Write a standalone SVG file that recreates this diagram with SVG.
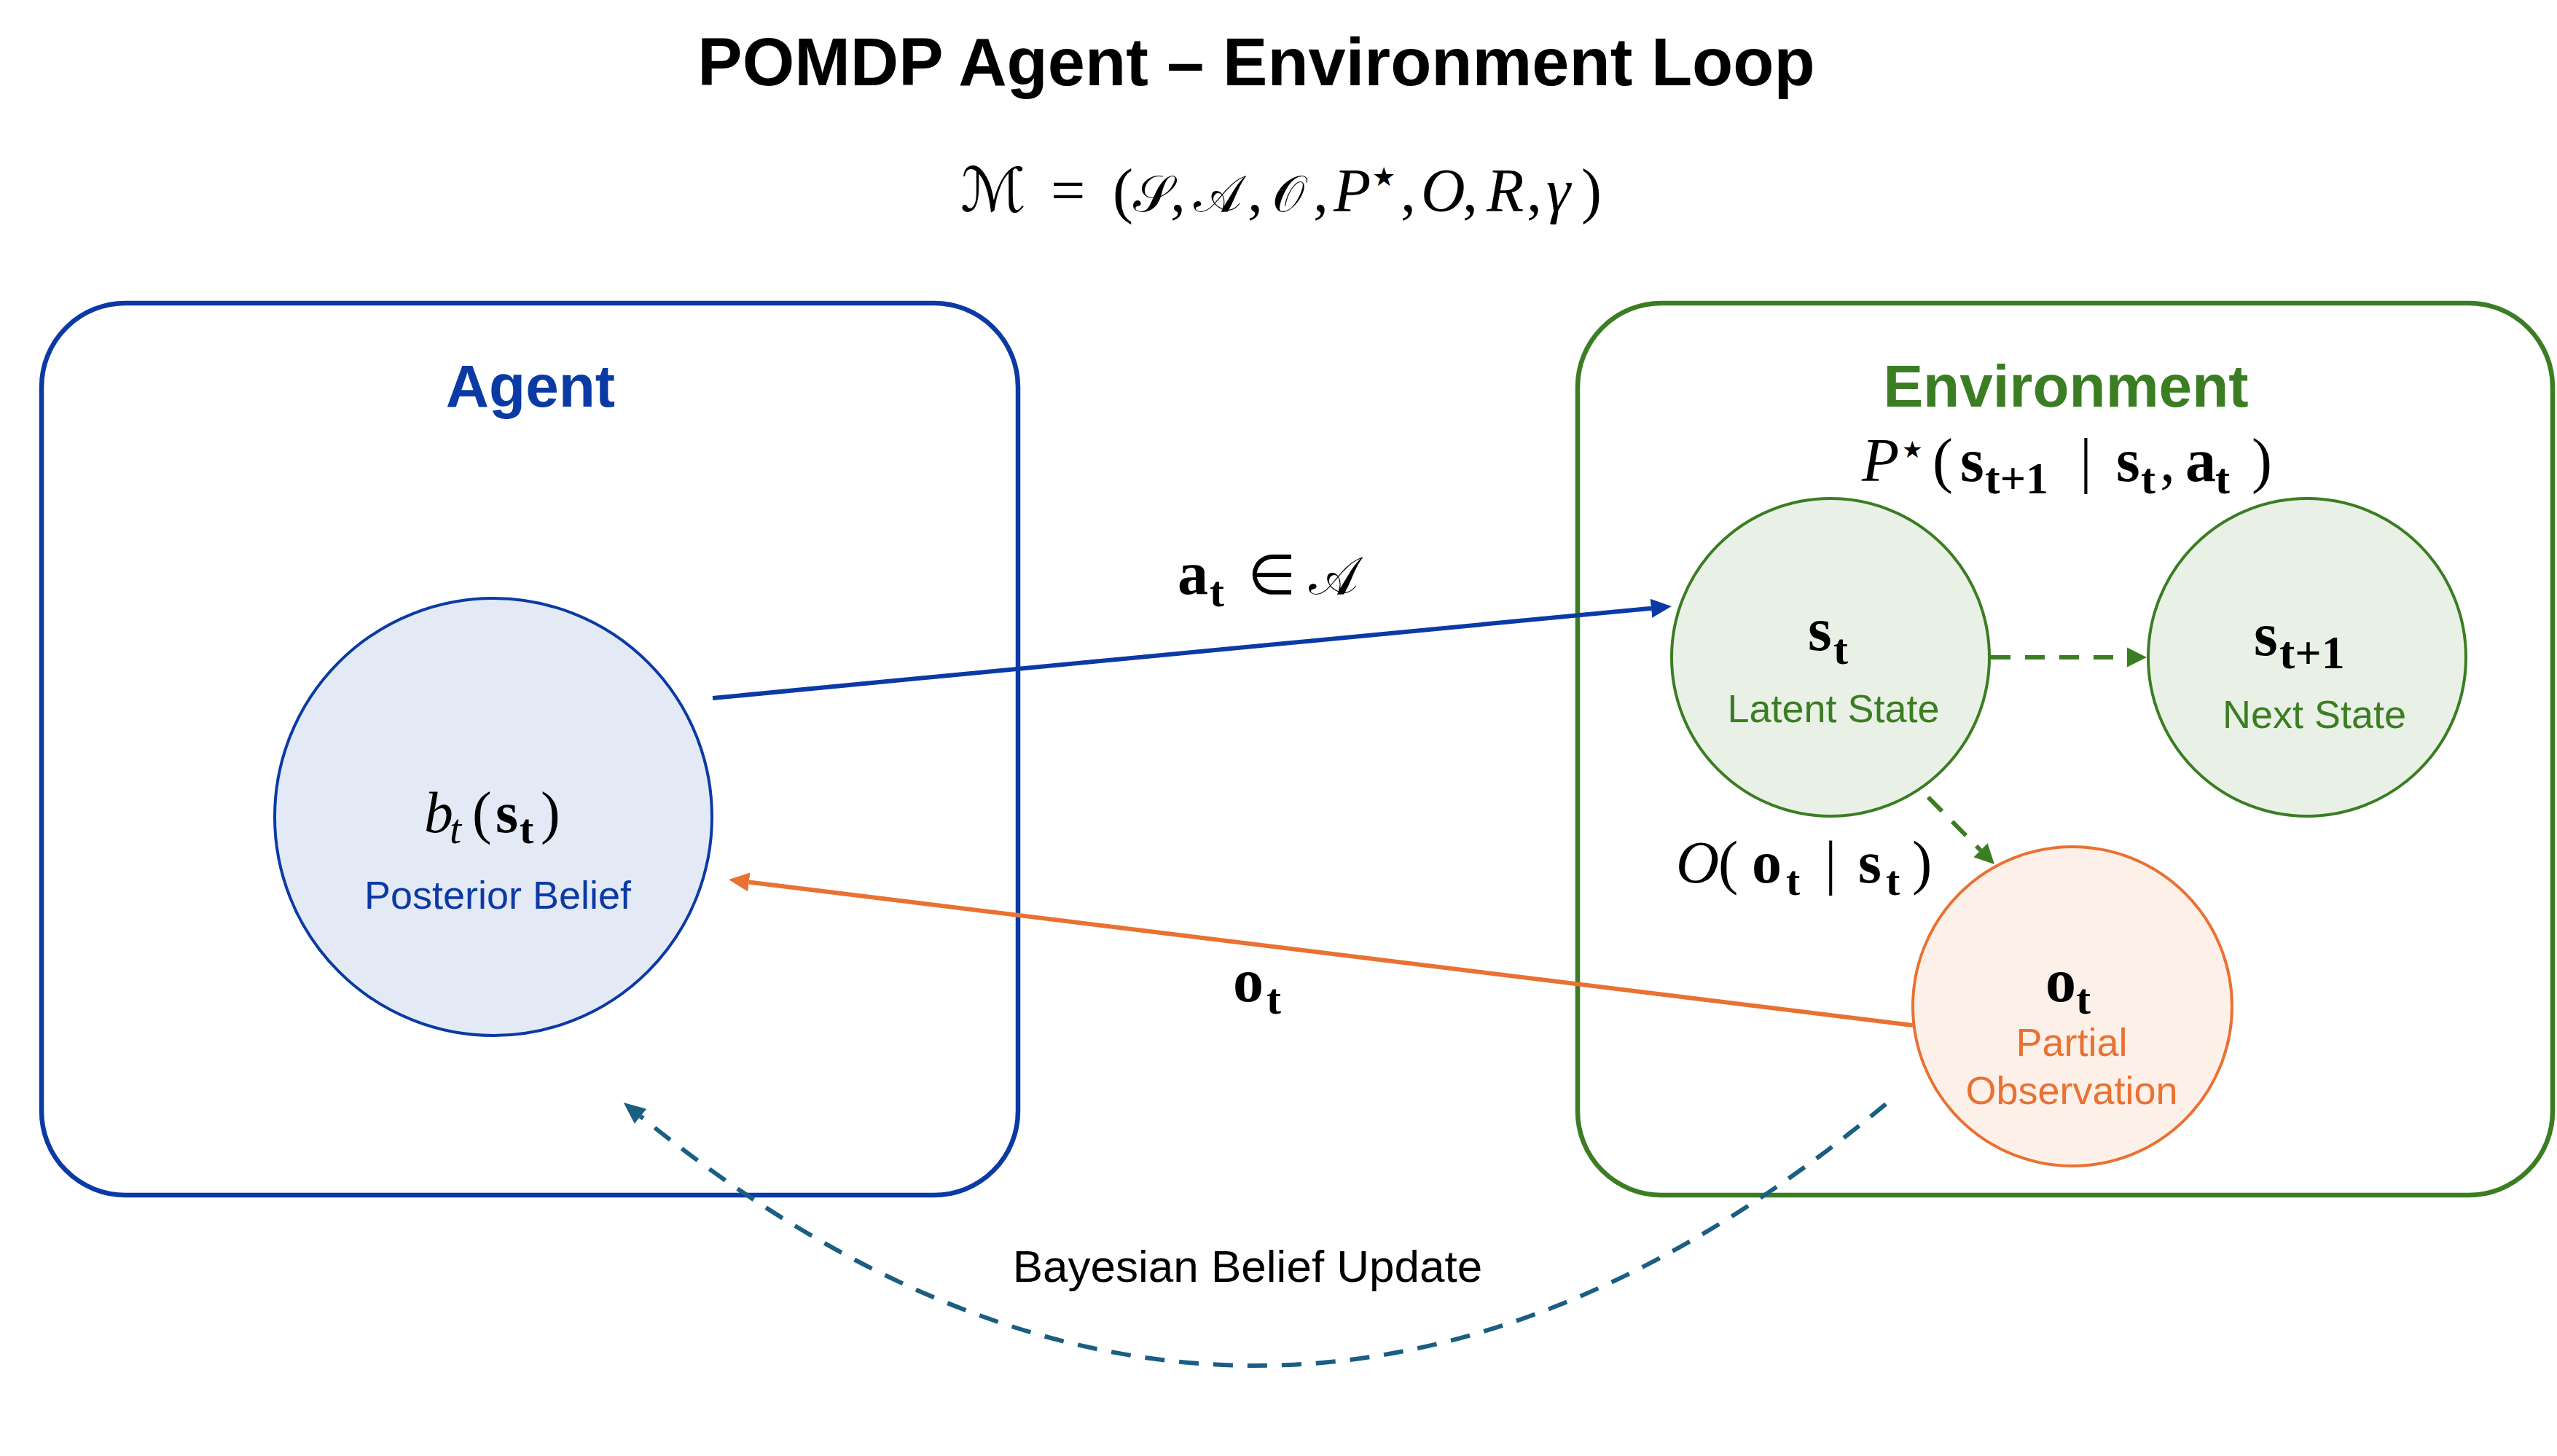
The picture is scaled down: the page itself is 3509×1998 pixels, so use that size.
<svg xmlns="http://www.w3.org/2000/svg" width="3509" height="1998" viewBox="0 0 3509 1998">
<style>
.sans{font-family:'Liberation Sans',Arial,Helvetica,sans-serif}
.bold{font-weight:bold}
.m{font-family:'Liberation Serif','DejaVu Serif',serif;fill:#000}
.i{font-style:italic}
.scr{font-family:'DejaVu Serif','DejaVu Sans','Noto Sans',serif;font-style:normal}
.sym{font-family:'DejaVu Sans','DejaVu Serif',sans-serif}
.box{fill:none;stroke-width:6.5}
.node{stroke-width:4}
.blue{stroke:#0b3aa5}
.green{stroke:#3b7d23}
.orange{stroke:#e97132}
.conn{fill:none;stroke-width:6}
.dash{stroke-dasharray:27 20}
</style>
<defs>
<marker id="ah-blue" markerUnits="userSpaceOnUse" markerWidth="40" markerHeight="40" viewBox="0 -20 40 40" refX="0" refY="0" orient="auto"><path d="M0,-13 L28,0 L0,13 z" fill="#0b3aa5"/></marker>
<marker id="ah-orange" markerUnits="userSpaceOnUse" markerWidth="40" markerHeight="40" viewBox="0 -20 40 40" refX="0" refY="0" orient="auto"><path d="M0,-13 L28,0 L0,13 z" fill="#e97132"/></marker>
<marker id="ah-green" markerUnits="userSpaceOnUse" markerWidth="40" markerHeight="40" viewBox="0 -20 40 40" refX="0" refY="0" orient="auto"><path d="M0,-13.5 L27,0 L0,13.5 z" fill="#3b7d23"/></marker>
<marker id="ah-teal" markerUnits="userSpaceOnUse" markerWidth="40" markerHeight="40" viewBox="0 -20 40 40" refX="0" refY="0" orient="auto"><path d="M0,-13 L30,0 L0,13 z" fill="#1a5f82"/></marker>
</defs>
<rect width="3509" height="1998" fill="#fff"/>

<g id="title">
<text class="sans bold" x="1724" y="117" font-size="92" text-anchor="middle" fill="#000">POMDP Agent – Environment Loop</text>
</g>

<g id="model-tuple">
<text class="m" y="290" font-size="84">
<tspan class="scr" x="1318">ℳ</tspan>
<tspan x="1442">=</tspan>
<tspan x="1527">(</tspan>
<tspan class="scr" x="1555" font-size="70">𝒮</tspan>
<tspan x="1606">,</tspan>
<tspan class="scr" x="1638" font-size="70">𝒜</tspan>
<tspan x="1712">,</tspan>
<tspan class="scr" x="1746" font-size="70">𝒪</tspan>
<tspan x="1802">,</tspan>
<tspan class="i" x="1830">P</tspan>
<tspan class="sym" x="1883" y="255" font-size="36">★</tspan>
<tspan x="1922" y="290">,</tspan>
<tspan class="i" x="1950">O</tspan>
<tspan x="2007">,</tspan>
<tspan class="i" x="2040">R</tspan>
<tspan x="2095">,</tspan>
<tspan class="i" x="2122">γ</tspan>
<tspan x="2170">)</tspan>
</text>
</g>

<g id="agent">
<rect class="box blue" x="57" y="416" width="1340" height="1224" rx="115"/>
<text class="sans bold" x="728" y="558" font-size="82" text-anchor="middle" fill="#0b3aa5">Agent</text>
</g>

<g id="environment">
<rect class="box green" x="2165" y="416" width="1338" height="1224" rx="115"/>
<text class="sans bold" x="2835" y="558" font-size="82" text-anchor="middle" fill="#3b7d23">Environment</text>
<text class="m" y="660" font-size="84">
<tspan class="i" x="2555">P</tspan>
<tspan class="sym" x="2610" y="628" font-size="32">★</tspan>
<tspan x="2652" y="660">(</tspan>
<tspan class="bold" x="2690">s</tspan>
<tspan class="bold" x="2724" y="677" font-size="62">t+1</tspan>
<tspan x="2854" y="660">|</tspan>
<tspan class="bold" x="2904">s</tspan>
<tspan class="bold" x="2938" y="677" font-size="60">t</tspan>
<tspan x="2964" y="660">,</tspan>
<tspan class="bold" x="2999">a</tspan>
<tspan class="bold" x="3040" y="677" font-size="60">t</tspan>
<tspan x="3090" y="660">)</tspan>
</text>
</g>

<g id="belief">
<circle class="node blue" cx="677" cy="1121" r="300" fill="#e3eaf6"/>
<text class="m" y="1142" font-size="80">
<tspan class="i" x="582">b</tspan>
<tspan class="i" x="617" y="1157" font-size="58">t</tspan>
<tspan x="648" y="1142">(</tspan>
<tspan class="bold" x="680">s</tspan>
<tspan class="bold" x="713" y="1157" font-size="58">t</tspan>
<tspan x="742" y="1142">)</tspan>
</text>
<text class="sans" x="683" y="1247" font-size="54" text-anchor="middle" fill="#0b3aa5">Posterior Belief</text>
</g>

<g id="latent-state">
<circle class="node green" cx="2512" cy="902" r="218" fill="#e9f1e6"/>
<text class="m bold" y="892" font-size="84">
<tspan x="2481">s</tspan>
<tspan x="2516" y="911" font-size="60">t</tspan>
</text>
<text class="sans" x="2516" y="991" font-size="54" text-anchor="middle" fill="#3b7d23">Latent State</text>
</g>

<g id="next-state">
<circle class="node green" cx="3166" cy="902" r="218" fill="#e9f1e6"/>
<text class="m bold" y="899" font-size="84">
<tspan x="3093">s</tspan>
<tspan x="3128" y="917" font-size="64">t+1</tspan>
</text>
<text class="sans" x="3176" y="999" font-size="54" text-anchor="middle" fill="#3b7d23">Next State</text>
</g>

<g id="observation">
<circle class="node orange" cx="2844" cy="1381" r="219" fill="#fdf0e8"/>
<text class="m bold" y="1374" font-size="84">
<tspan x="2807">o</tspan>
<tspan x="2849" y="1391" font-size="60">t</tspan>
</text>
<text class="sans" x="2843" y="1449" font-size="54" text-anchor="middle" fill="#e97132">Partial</text>
<text class="sans" x="2843" y="1515" font-size="54" text-anchor="middle" fill="#e97132">Observation</text>
</g>

<g id="connectors">
<path class="conn blue" d="M978,958 L2266,834.7" marker-end="url(#ah-blue)"/>
<path class="conn orange" d="M2625,1407 L1027.8,1210.4" marker-end="url(#ah-orange)"/>
<path class="conn green dash" d="M2732,902 L2919,902" marker-end="url(#ah-green)"/>
<path class="conn green dash" d="M2646,1094 L2718,1166.8" marker-end="url(#ah-green)"/>
<path class="conn dash" stroke="#1a5f82" d="M2588,1515 Q1733.5,2224.4 879,1531.9" marker-end="url(#ah-teal)"/>
<text class="m" y="815" font-size="84">
<tspan class="bold" x="1616">a</tspan>
<tspan class="bold" x="1660" y="832" font-size="60">t</tspan>
<tspan class="sym" x="1712" y="815" font-size="76">∈</tspan>
<tspan class="scr" x="1796" font-size="72">𝒜</tspan>
</text>
<text class="m bold" y="1374" font-size="84">
<tspan x="1692">o</tspan>
<tspan x="1738" y="1391" font-size="60">t</tspan>
</text>
<text class="m" y="1211" font-size="82">
<tspan class="i" x="2300">O</tspan>
<tspan x="2358">(</tspan>
<tspan class="bold" x="2404">o</tspan>
<tspan class="bold" x="2451" y="1228" font-size="58">t</tspan>
<tspan x="2504" y="1211">|</tspan>
<tspan class="bold" x="2550">s</tspan>
<tspan class="bold" x="2588" y="1228" font-size="58">t</tspan>
<tspan x="2624" y="1211">)</tspan>
</text>
<text class="sans" x="1712" y="1759" font-size="62" text-anchor="middle" fill="#000">Bayesian Belief Update</text>
</g>
</svg>
